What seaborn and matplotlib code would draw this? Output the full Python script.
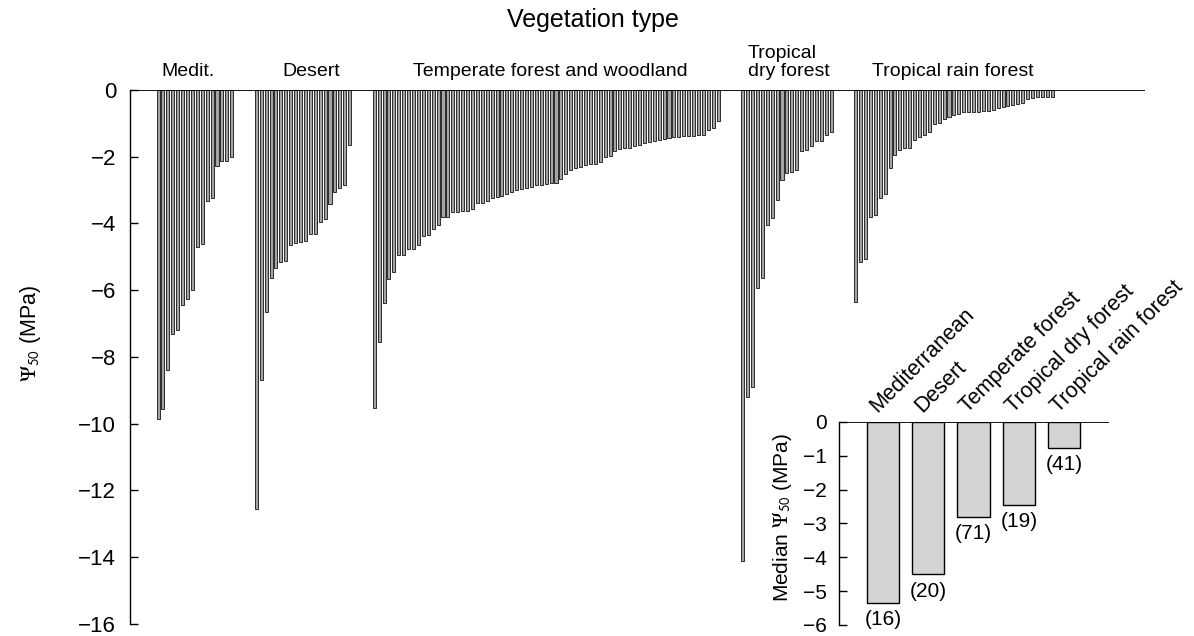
import numpy as np
import pandas as pd
import matplotlib
matplotlib.use('Agg')
import matplotlib.pyplot as plt
import seaborn as sns

# Psi50 (MPa) for each species, most negative first
medit = [-9.85, -9.55, -8.4, -7.3, -7.2, -6.45, -6.25, -6.0, -4.7, -4.6,
         -3.33, -3.23, -2.28, -2.13, -2.12, -2.0]
desert = [-12.56, -8.69, -6.66, -5.64, -5.34, -5.15, -5.12, -4.64, -4.59, -4.54,
          -4.52, -4.32, -4.32, -3.97, -3.87, -3.43, -3.06, -2.93, -2.86, -1.66]
temperate = [-9.54, -7.55, -6.38, -5.66, -5.44, -4.95, -4.95, -4.75, -4.75, -4.63,
             -4.37, -4.35, -4.17, -4.05, -3.82, -3.82, -3.67, -3.67, -3.64, -3.62,
             -3.58, -3.38, -3.38, -3.33, -3.23, -3.21, -3.18, -3.13, -3.06, -3.01,
             -2.96, -2.94, -2.91, -2.86, -2.84, -2.82, -2.80, -2.78, -2.66, -2.51,
             -2.41, -2.33, -2.30, -2.26, -2.23, -2.23, -2.17, -2.01, -1.97, -1.84,
             -1.77, -1.74, -1.73, -1.69, -1.64, -1.59, -1.56, -1.52, -1.49, -1.46,
             -1.44, -1.42, -1.41, -1.39, -1.39, -1.37, -1.36, -1.34, -1.19, -1.14,
             -0.94]
trop_dry = [-14.1, -9.2, -8.9, -5.93, -5.63, -4.05, -3.85, -3.31, -2.71, -2.48,
            -2.45, -2.41, -1.82, -1.79, -1.67, -1.52, -1.52, -1.34, -1.26]
trop_rain = [-6.34, -5.15, -5.05, -3.82, -3.75, -3.23, -3.13, -2.33, -1.94, -1.81,
             -1.74, -1.74, -1.49, -1.41, -1.34, -1.27, -1.01, -0.99, -0.87, -0.81,
             -0.74, -0.71, -0.67, -0.66, -0.66, -0.65, -0.63, -0.62, -0.60, -0.55,
             -0.50, -0.48, -0.45, -0.42, -0.40, -0.28, -0.23, -0.20, -0.20, -0.20,
             -0.20]
group_labels = ['Medit.', 'Desert', 'Temperate forest and woodland',
                'Tropical\ndry forest', 'Tropical rain forest']

# inset: median Psi50 per vegetation type and number of species
inset_labels = ['Mediterranean', 'Desert', 'Temperate forest',
                'Tropical dry forest', 'Tropical rain forest']
inset_medians = [-5.35, -4.5, -2.8, -2.45, -0.76]
inset_counts = [16, 20, 71, 19, 41]

main_ticks = np.arange(-16, 1, 2)
inset_ticks = np.arange(-6, 1, 1)

sns.set_theme(style='white')
plt.rcParams['font.family'] = ['Liberation Sans', 'DejaVu Sans']
plt.rcParams['mathtext.fontset'] = 'stix'
plt.rcParams['text.color'] = 'black'
plt.rcParams['axes.labelcolor'] = 'black'
plt.rcParams['ytick.color'] = 'black'

# bar slots: one per species, a gap of empty slots between groups
groups = [medit, desert, temperate, trop_dry, trop_rain]
first_slot = 6
gap = 5
rows = []
centers = []
start = first_slot
for name, vals in zip(group_labels, groups):
    pos = start + np.arange(len(vals))
    for p, v in zip(pos, vals):
        rows.append({'pos': p, 'psi50': v, 'veg': name})
    centers.append((pos[0] + pos[-1]) / 2)
    start = pos[-1] + gap
df = pd.DataFrame(rows)

fig = plt.figure(figsize=(11.94, 6.36), dpi=100)
ax = fig.add_axes([0.1089, 0.0189, 0.8501, 0.8396])

sns.barplot(data=df, x='pos', y='psi50', native_scale=True, width=0.62,
            color='#a4a4a4', saturation=1, edgecolor='#111111', linewidth=0.6,
            errorbar=None, ax=ax)
ax.axhline(0, color='black', lw=1.3, zorder=5)
ax.set_xlim(0.3, 206.9)
ax.set_ylim(-16, 0)
ax.set_yticks(main_ticks)
ax.set_yticklabels([f'{t:d}'.replace('-', '\u2212') for t in main_ticks])
ax.tick_params(axis='y', direction='in', length=6, width=1, pad=10,
               labelsize=16, left=True)
ax.set_xticks([])
ax.set_xlabel('')
ax.set_ylabel(r'$\Psi_{\mathsf{50}}$ (MPa)', fontsize=15.5)
ax.yaxis.set_label_coords(-0.086, 0.545)
for s in ['top', 'right', 'bottom']:
    ax.spines[s].set_visible(False)
ax.spines['left'].set_color('black')
ax.spines['left'].set_linewidth(1.0)

# group names above the bars
label_shift = [-1.4, 1.6, 0.8, -8.0, -0.2]
for c, lab, sh in zip(centers, group_labels, label_shift):
    if '\n' in lab:
        ax.text(c + sh, 0.3, lab, ha='left', va='bottom', fontsize=14,
                linespacing=1.1)
    else:
        ax.text(c + sh, 0.3, lab, ha='center', va='bottom', fontsize=14)
fig.text(0.497, 0.968, 'Vegetation type', ha='center', va='center', fontsize=18)

# inset with medians
ax2 = fig.add_axes([0.7027, 0.0173, 0.2261, 0.3192])
ax2.patch.set_alpha(0)
inset_df = pd.DataFrame({'veg': inset_labels, 'median': inset_medians})
sns.barplot(data=inset_df, x='veg', y='median', color='#d4d4d4', saturation=1,
            edgecolor='black', linewidth=1.0, width=0.71, errorbar=None, ax=ax2)
ax2.axhline(0, color='black', lw=1.3, zorder=5)
ax2.set_xlim(-0.97, 4.99)
ax2.set_ylim(-6, 0)
ax2.set_yticks(inset_ticks)
ax2.set_yticklabels([f'{t:d}'.replace('-', '\u2212') for t in inset_ticks])
ax2.tick_params(axis='y', direction='in', length=6, width=1, pad=9,
                labelsize=15, left=True)
ax2.set_xticks([])
ax2.set_xlabel('')
ax2.set_ylabel(r'Median $\Psi_{\mathsf{50}}$ (MPa)', fontsize=15)
ax2.yaxis.set_label_coords(-0.165, 0.53)
for s in ['top', 'right', 'bottom']:
    ax2.spines[s].set_visible(False)
ax2.spines['left'].set_color('black')
ax2.spines['left'].set_linewidth(1.0)
for i, (lab, m, n) in enumerate(zip(inset_labels, inset_medians, inset_counts)):
    ax2.text(i - 0.05, 0.15, lab, rotation=45, rotation_mode='anchor',
             ha='left', va='bottom', fontsize=15.5)
    ax2.text(i, m - 0.5, f'({n})', ha='center', va='center', fontsize=15)

fig.savefig('out.png', dpi=100)
